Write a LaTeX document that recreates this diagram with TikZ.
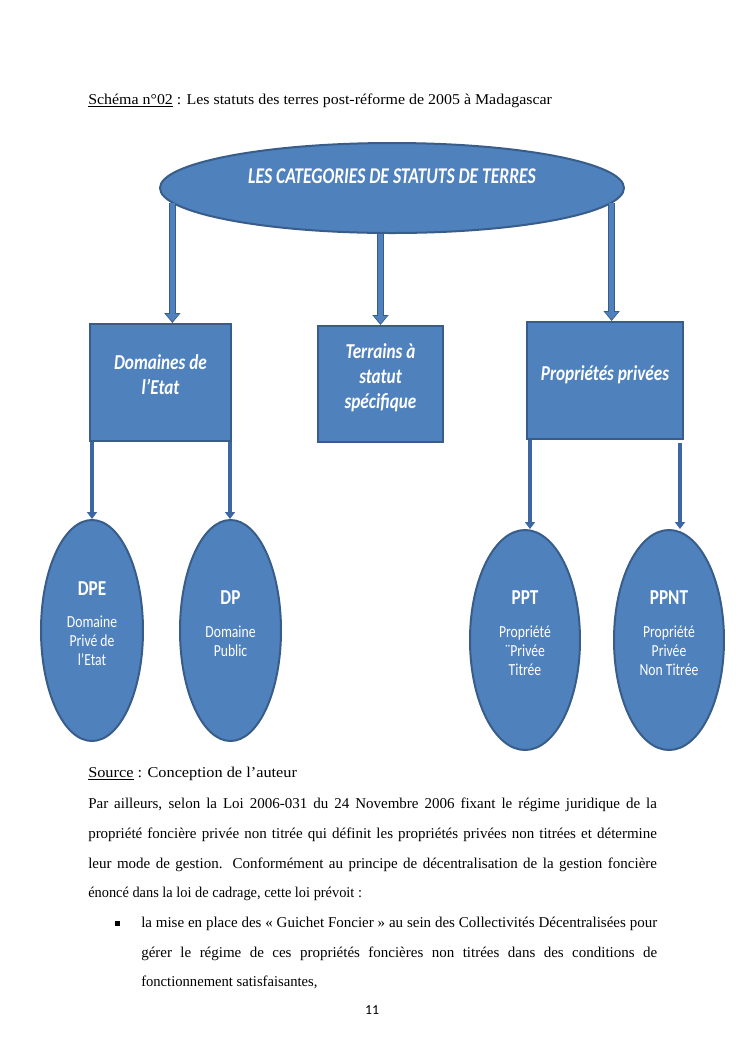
\documentclass[tikz,border=0pt]{standalone}
\usepackage{fontspec}
\setmainfont{Liberation Serif}
\newfontfamily\shapefont[FakeStretch=0.81]{Carlito}
\newfontfamily\topfont[FakeStretch=0.78]{Carlito}
\newfontfamily\numfont{Carlito}
\usepackage{graphicx}
\usepackage{tikz}
\usetikzlibrary{positioning}
\usetikzlibrary{arrows.meta}
\usetikzlibrary{shapes,calc}
\definecolor{shapeblue}{HTML}{4F81BD}
\definecolor{edgeblue}{HTML}{385D8A}
\definecolor{linkblue}{HTML}{3C67A3}
\tikzset{top node/.style={ellipse,fill=shapeblue,draw=edgeblue,line width=1.6pt,text=white,inner sep=0pt,font=\topfont\bfseries\itshape\fontsize{18}{21}\selectfont},
  cat node/.style={rectangle,fill=shapeblue,draw=edgeblue,line width=1.6pt,text=white,align=center,inner sep=0pt,font=\shapefont\bfseries\itshape\fontsize{17}{20}\selectfont},
  leaf node/.style={ellipse,fill=shapeblue,draw=edgeblue,line width=1.6pt,text=white,align=center,inner sep=0pt,font=\shapefont\fontsize{13.5}{15.2}\selectfont},
  big arrow/.style={draw=shapeblue,line width=3.6pt,-{Triangle[width=10pt,length=6pt]},shorten >=1.2pt,
    preaction={draw=edgeblue,line width=5.6pt,-{Triangle[width=12.6pt,length=8pt]},shorten >=0pt}},
  link arrow/.style={draw=linkblue,line width=3.4pt,-{Triangle[width=8pt,length=5.6pt]}},
  body line/.style={anchor=base west,inner sep=0pt,font=\fontsize{12}{14}\selectfont},
}
\newcommand{\head}[1]{\textbf{\fontsize{17}{17}\selectfont #1}}

\begin{document}
\begin{tikzpicture}[x=0.8pt,y=-0.8pt]
    \path[use as bounding box,fill=white] (0,0) rectangle (745,1053);

    \node[body line] (title) at (88,104) {\resizebox{371pt}{\height}{\underline{Schéma n°02} : Les statuts des terres post-réforme de 2005 à Madagascar}};

    % the diagram
    \node[top node,minimum width=371.2pt,minimum height=72pt,text depth=19.2pt] (top) at (392,188) {LES CATEGORIES DE STATUTS DE TERRES};

    \node[cat node,minimum width=112.8pt,minimum height=93.6pt,text depth=13.3pt] (dom) at (160.5,382.5) {Domaines de\\l’Etat};
    \node[cat node,minimum width=100pt,minimum height=92.8pt,text depth=12.5pt] (ter) at (380.5,384) {Terrains à\\statut\\spécifique};
    \node[cat node,minimum width=124.8pt,minimum height=93.6pt,text depth=11.7pt] (pro) at (605,380.5) {Propriétés privées};

    \node[leaf node,minimum width=81.6pt,minimum height=176.8pt,text depth=11.5pt] (dpe) at (92,630.5) {\head{DPE}\\[10.7pt]Domaine\\Privé de\\l’Etat};
    \node[leaf node,minimum width=80.8pt,minimum height=176.8pt,text depth=11.5pt] (dp) at (230.5,630.5) {\head{DP}\\[11.5pt]Domaine\\Public};
    \node[leaf node,minimum width=88pt,minimum height=176pt,text depth=10.6pt] (ppt) at (525,640) {\head{PPT}\\[11pt]Propriété\\¨Privée\\Titrée};
    \node[leaf node,minimum width=88pt,minimum height=176pt,text depth=10.6pt] (ppnt) at (669,640) {\head{PPNT}\\[11pt]Propriété\\Privée\\Non Titrée};

    \draw[big arrow] (top.184) -- (top.184 |- dom.north);
    \draw[big arrow] (top.south -| ter.north) -- (ter.north);
    \draw[big arrow] (top.-4.5) -- (top.-4.5 |- pro.north);

    \coordinate (dl) at ([xshift=2.4pt]dom.south west);
    \coordinate (dr) at ([xshift=-1.6pt]dom.south east);
    \coordinate (pl) at ([xshift=3.2pt]pro.south west);
    \coordinate (pr) at ([xshift=-3.2pt,yshift=-2.4pt]pro.south east);
    \draw[link arrow] (dl) -- (dl |- dpe.north);
    \draw[link arrow] (dr) -- (dr |- dp.north);
    \draw[link arrow] (pl) -- (pl |- ppt.north);
    \draw[link arrow] (pr) -- (pr |- ppnt.north);

    % text below
    \node[body line] (source) at (88,777) {\resizebox{167pt}{\height}{\underline{Source} : Conception de l’auteur}};
    \foreach \txt [count=\i] in {{Par ailleurs, selon la Loi 2006-031 du 24 Novembre 2006 fixant le régime juridique de la},
      {propriété foncière privée non titrée qui définit les propriétés privées non titrées et détermine},
      {leur mode de gestion. Conformément au principe de décentralisation de la gestion foncière}}
      \node[body line] (par\i) at (88,{778+30*\i}) {\makebox[455pt][s]{\txt}};
    \node[body line] (par4) at (88,897) {\resizebox{219pt}{\height}{énoncé dans la loi de cadrage, cette loi prévoit :}};

    \node[body line] (bullet) at (115,927) {\rule[1.2pt]{3.8pt}{3.8pt}};
    \node[body line] (item1) at (141,927) {\makebox[412.8pt][s]{la mise en place des « Guichet Foncier » au sein des Collectivités Décentralisées pour}};
    \node[body line] (item2) at (141,957) {\makebox[412.8pt][s]{gérer le régime de ces propriétés foncières non titrées dans des conditions de}};
    \node[body line] (item3) at (141,986) {\resizebox{141pt}{\height}{fonctionnement satisfaisantes,}};

    \node[anchor=base,inner sep=0pt,font=\numfont\fontsize{11}{13}\selectfont] (page) at (372,1014) {11};
\end{tikzpicture}
\end{document}
